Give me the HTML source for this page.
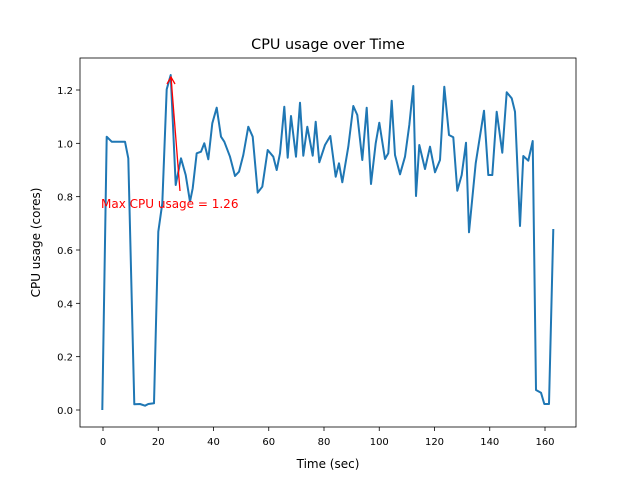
<!DOCTYPE html>
<html><head><style>body{margin:0;background:#fff}</style></head><body>
<svg width="640" height="480" xmlns="http://www.w3.org/2000/svg" font-family="DejaVu Sans, Liberation Sans, sans-serif">
<rect width="640" height="480" fill="#fff"/>
<text x="328" y="49" font-size="14.4" text-anchor="middle">CPU usage over Time</text>
<polyline fill="none" stroke="#1f77b4" stroke-width="2" stroke-linejoin="round" points="102.3,410 106.7,136.7 111.7,141.7 125,141.7 128.3,158.3 134.3,404.3 140,404 145,405.7 148.3,404 154,403.3 158.3,231.7 162.3,203.3 166.7,89.3 170.7,75 175.7,185 181,158.3 185.7,175 190,201.7 192.7,188.3 196.7,153.3 201,151.7 204.3,143.3 208.3,159.3 212.3,123.3 216.7,107.7 221,136.7 224.3,141.7 230,156.7 235,176 239,171.7 243.3,155 248.3,126.7 252.7,136.7 257.7,192.7 262.3,186.7 267.7,150 273.3,156.7 276.7,170 280,153.3 284.3,106.7 287.7,157.7 291,116 296,156.7 300,102.7 303.3,155.7 307.3,126.7 312.7,155.7 315.7,121.7 319.3,162.3 325,145 330.3,136 335.7,176.7 339,163.3 342.3,182.3 348.3,146.7 353.3,106 357.3,115 362.3,160 366.7,107.7 371,184 375.7,143.3 379.3,122.7 385,159 388.3,153.3 391.7,100.7 395,155 400,174.3 405,156.7 409.3,125 413.3,86 416,196 419.3,145 425,169 430,146.7 435,172.3 440,160 444.3,86.7 449,135 453.3,137.3 457.3,190.7 461.7,175 466,142.7 469,232.3 475.7,163.3 484,110.7 488.3,175 492.3,175 496.7,111.7 502.3,152.7 506.7,92.3 511.7,98.3 515,111.7 520,226 523.3,156 528.3,160.7 532.7,141 536,390 541,392.7 544.3,404 549,404 553.3,229"/>
<line x1="180" y1="191" x2="171" y2="77" stroke="red" stroke-width="1.3"/>
<polyline points="167,84 171,77 175,84" fill="none" stroke="red" stroke-width="1.3"/>
<text x="101" y="208" font-size="12" fill="red">Max CPU usage = 1.26</text>
<rect x="80" y="58" width="496" height="369" fill="none" stroke="#000" stroke-width="0.8"/>
<g stroke="#000" stroke-width="0.8">
<line x1="103" y1="427" x2="103" y2="431"/><line x1="158.25" y1="427" x2="158.25" y2="431"/><line x1="213.5" y1="427" x2="213.5" y2="431"/><line x1="268.75" y1="427" x2="268.75" y2="431"/><line x1="324" y1="427" x2="324" y2="431"/><line x1="379.25" y1="427" x2="379.25" y2="431"/><line x1="434.5" y1="427" x2="434.5" y2="431"/><line x1="489.75" y1="427" x2="489.75" y2="431"/><line x1="545" y1="427" x2="545" y2="431"/>
<line x1="76" y1="410" x2="80" y2="410"/><line x1="76" y1="356.67" x2="80" y2="356.67"/><line x1="76" y1="303.33" x2="80" y2="303.33"/><line x1="76" y1="250" x2="80" y2="250"/><line x1="76" y1="196.67" x2="80" y2="196.67"/><line x1="76" y1="143.33" x2="80" y2="143.33"/><line x1="76" y1="90" x2="80" y2="90"/>
</g>
<g font-size="10" text-anchor="middle">
<text x="103" y="445">0</text><text x="158.25" y="445">20</text><text x="213.5" y="445">40</text><text x="268.75" y="445">60</text><text x="324" y="445">80</text><text x="379.25" y="445">100</text><text x="434.5" y="445">120</text><text x="489.75" y="445">140</text><text x="545" y="445">160</text>
</g>
<g font-size="10" text-anchor="end">
<text x="73" y="414">0.0</text><text x="73" y="360.67">0.2</text><text x="73" y="307.33">0.4</text><text x="73" y="254">0.6</text><text x="73" y="200.67">0.8</text><text x="73" y="147.33">1.0</text><text x="73" y="94">1.2</text>
</g>
<text x="328" y="468" font-size="12" text-anchor="middle">Time (sec)</text>
<text transform="translate(40,242.5) rotate(-90)" font-size="12" text-anchor="middle">CPU usage (cores)</text>
</svg>
</body></html>
